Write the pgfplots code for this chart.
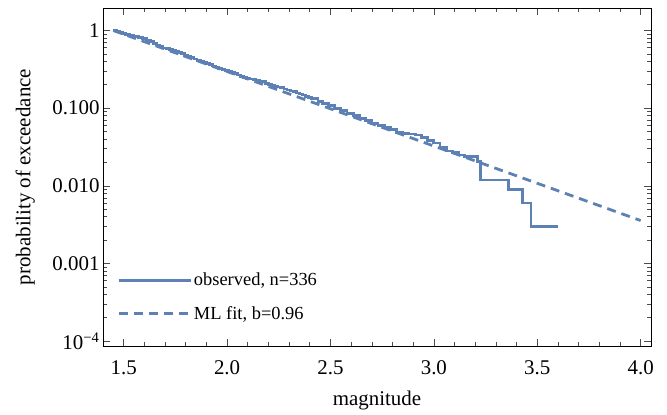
\documentclass[border=0pt]{standalone}
\usepackage{fontspec}
\setmainfont{Liberation Serif}
\usepackage{pgfplots}
\pgfplotsset{compat=1.18}
\definecolor{mblue}{rgb}{0.368417,0.506779,0.709798}

\pgfplotstableread{
m P
1.450 1.000
1.465 0.970
1.480 0.940
1.495 0.915
1.510 0.890
1.530 0.862
1.550 0.835
1.570 0.808
1.590 0.780
1.610 0.750
1.630 0.720
1.645 0.685
1.660 0.650
1.675 0.622
1.690 0.595
1.705 0.580
1.720 0.565
1.735 0.552
1.750 0.540
1.765 0.520
1.780 0.500
1.795 0.481
1.810 0.462
1.825 0.446
1.840 0.430
1.855 0.415
1.870 0.400
1.885 0.387
1.900 0.375
1.915 0.362
1.930 0.350
1.945 0.339
1.960 0.328
1.975 0.318
1.990 0.308
2.005 0.298
2.020 0.288
2.035 0.278
2.050 0.268
2.065 0.258
2.080 0.248
2.095 0.243
2.110 0.238
2.125 0.233
2.140 0.229
2.155 0.223
2.170 0.218
2.185 0.210
2.200 0.202
2.215 0.197
2.230 0.192
2.245 0.187
2.260 0.183
2.275 0.177
2.290 0.171
2.305 0.166
2.320 0.162
2.335 0.157
2.350 0.152
2.365 0.148
2.380 0.143
2.395 0.138
2.410 0.134
2.44 0.122
2.46 0.116
2.49 0.107
2.52 0.100
2.55 0.094
2.58 0.086
2.61 0.081
2.64 0.074
2.67 0.069
2.70 0.063
2.73 0.060
2.76 0.056
2.79 0.053
2.82 0.049
2.85 0.0476
2.88 0.0464
2.91 0.0452
2.94 0.0417
2.97 0.0387
3.00 0.0357
3.03 0.0310
3.06 0.0280
3.09 0.0268
3.12 0.0250
3.15 0.0238
3.18 0.0238
3.21 0.0208
3.226 0.0119
3.36 0.0089
3.43 0.0060
3.47 0.0030
3.60 0.0030
}\observed

\begin{document}
\begin{tikzpicture}
\useasboundingbox (0,0) rectangle (667bp,415bp);
\begin{axis}[
    at={(103bp,69bp)}, anchor=south west,
    scale only axis, width=548bp, height=338bp,
    ymode=log,
    xmin=1.40, xmax=4.05,
    ymin=8.65e-5, ymax=1.95,
    xtick={1.5,2.0,2.5,3.0,3.5,4.0},
    xticklabels={1.5,2.0,2.5,3.0,3.5,4.0},
    minor x tick num=4,
    ytick={1e-4,1e-3,1e-2,1e-1,1},
    yticklabels={10\textsuperscript{−4},0.001,0.010,0.100,1},
    xtick pos=both, ytick pos=both,
    ticklabel pos=left,
    tick align=inside,
    major tick length=7bp, minor tick length=4bp,
    tick style={black!70, line width=0.6bp},
    axis line style={black, line width=0.8bp},
    tick label style={font=\fontsize{21}{24}\selectfont},
    label style={font=\fontsize{21}{24}\selectfont},
    xticklabel style={yshift=-11bp},
    xlabel={magnitude},
    ylabel={probability of exceedance},
    xlabel style={at={(axis description cs:0.5,-0.16)}, anchor=center},
    ylabel style={at={(axis description cs:-0.142,0.5)}, anchor=center},
    legend style={draw=none, fill=none, at={(axis description cs:0.0255,0.145)},
        anchor=west, inner sep=0pt, row sep=15bp, font=\fontsize{18.5}{21}\selectfont},
    legend cell align=left,
    legend image code/.code={\draw[#1] (0bp,0bp) -- (72bp,0bp);},
]
\addplot[mblue, line width=2.8bp, const plot mark left] table[x=m, y=P] {\observed};
\addlegendentry{observed, n=336}
\addplot[mblue, line width=2.8bp, dash pattern=on 9bp off 6bp] coordinates {(1.45,1.0) (4.0,0.00357)};
\addlegendentry{ML fit, b=0.96}
\end{axis}
\end{tikzpicture}
\end{document}
